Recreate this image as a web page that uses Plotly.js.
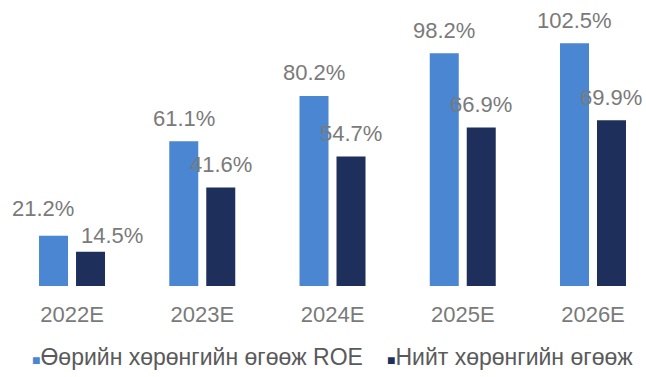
<!DOCTYPE html>
<html>
<head>
<meta charset="utf-8">
<script src="https://cdn.plot.ly/plotly-3.0.1.min.js"></script>
<style>html,body{margin:0;padding:0;background:#fff;}#chart{width:646px;height:377px;}</style>
</head>
<body>
<div id="chart"></div>
<script>
var categories = ["2022E", "2023E", "2024E", "2025E", "2026E"];
var roeValues = [21.2, 61.1, 80.2, 98.2, 102.5];
var roaValues = [14.5, 41.6, 54.7, 66.9, 69.9];
var seriesNames = ["Өөрийн хөрөнгийн өгөөж ROE", "Нийт хөрөнгийн өгөөж"];

var lightBlue = "#4a86d2";
var darkNavy = "#1e2f5c";
var labelGrey = "#7a7a7a";
var legendGrey = "#5a5a5a";
var fontFam = "'Liberation Sans', Arial, sans-serif";
var seriesColors = [lightBlue, darkNavy];

var traces = [
  {type: "bar", name: seriesNames[0], x: categories, y: roeValues,
   marker: {color: lightBlue}, hoverinfo: "skip", showlegend: false},
  {type: "bar", name: seriesNames[1], x: categories, y: roaValues,
   marker: {color: darkNavy}, hoverinfo: "skip", showlegend: false}
];

// label nudges (style only): first category labels were moved apart
var nudgeLight = {0: {dx: -11, dy: 4}};
var nudgeDark = {0: {dx: 21, dy: -7}};

var annotations = [];
function addLabels(vals, offset, nudges) {
  vals.forEach(function (v, i) {
    var n = nudges[i] || {dx: 0, dy: 0};
    annotations.push({
      x: i + offset, y: v, xref: "x", yref: "y",
      text: v.toFixed(1) + "%", showarrow: false,
      xanchor: "center", yanchor: "middle",
      xshift: n.dx, yshift: 23 + n.dy,
      font: {family: fontFam, size: 22, color: labelGrey}
    });
  });
}
addLabels(roeValues, -0.142, nudgeLight);
addLabels(roaValues, 0.142, nudgeDark);

// legend entries drawn as text with a coloured square glyph
var legendX = [30 / 646, 385 / 646];
seriesNames.forEach(function (name, i) {
  annotations.push({
    xref: "paper", yref: "paper", x: legendX[i], y: -0.248,
    xanchor: "left", yanchor: "middle", showarrow: false,
    text: '<span style="color:' + seriesColors[i] + ';font-size:14px">■</span>' + name,
    font: {family: fontFam, size: 23, color: legendGrey}
  });
});

var layout = {
  width: 646, height: 377,
  margin: {l: 0, r: 0, t: 0, b: 91},
  paper_bgcolor: "#fff", plot_bgcolor: "#fff",
  barmode: "group", bargap: 0.432, bargroupgap: 0.216,
  showlegend: false,
  xaxis: {type: "category", range: [-0.553, 4.407], showline: false, showgrid: false,
          zeroline: false, ticks: "", ticklabelstandoff: 13,
          tickfont: {family: fontFam, size: 22, color: labelGrey}},
  yaxis: {range: [0, 120.7], visible: false, showgrid: false, zeroline: false},
  annotations: annotations,
  font: {family: fontFam}
};

Plotly.newPlot("chart", traces, layout, {staticPlot: true, displayModeBar: false});
</script>
</body>
</html>
